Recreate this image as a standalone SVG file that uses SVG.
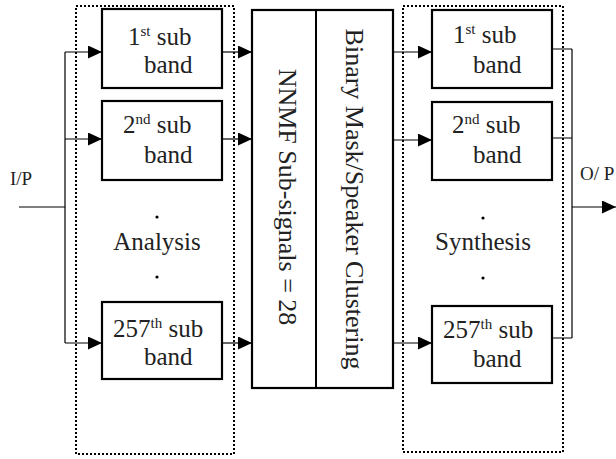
<svg xmlns="http://www.w3.org/2000/svg" width="616" height="459" viewBox="0 0 616 459">
<defs>
<marker id="ah" markerUnits="userSpaceOnUse" markerWidth="15" markerHeight="13" refX="14" refY="6.5" orient="auto">
<path d="M0,0 L14,6.5 L0,13 Z" fill="#000"/>
</marker>
<style>
.box{fill:#fff;stroke:#000;stroke-width:2.2}
.dot{fill:none;stroke:#000;stroke-width:2;stroke-dasharray:2 2}
.ln{fill:none;stroke:#000;stroke-width:1.2}
.t{font-family:"Liberation Serif","Times New Roman",serif;font-size:25px;fill:#222}
.sup{font-size:15px}
.v{font-size:26px}
.lab{font-size:19px}
</style>
</defs>
<rect width="616" height="459" fill="#fff"/>
<g id="analysis">
<rect class="dot" x="76" y="6" width="158" height="448"/>
<text class="t" x="157" y="250" text-anchor="middle">Analysis</text>
<circle cx="157" cy="217" r="1.6" fill="#000"/>
<circle cx="157" cy="277" r="1.6" fill="#000"/>
</g>
<g id="synthesis">
<rect class="dot" x="403" y="6" width="160" height="446"/>
<text class="t" x="483" y="250" text-anchor="middle">Synthesis</text>
<circle cx="483" cy="218" r="1.6" fill="#000"/>
<circle cx="483" cy="278" r="1.6" fill="#000"/>
</g>
<g id="connectors">
<path class="ln" d="M19,207 H65 M65,52 V343"/>
<path class="ln" d="M65,52 H102" marker-end="url(#ah)"/>
<path class="ln" d="M65,139 H102" marker-end="url(#ah)"/>
<path class="ln" d="M65,343 H102" marker-end="url(#ah)"/>
<path class="ln" d="M222,52 H252" marker-end="url(#ah)"/>
<path class="ln" d="M222,139 H252" marker-end="url(#ah)"/>
<path class="ln" d="M222,343 H252" marker-end="url(#ah)"/>
<path class="ln" d="M393,52 H432" marker-end="url(#ah)"/>
<path class="ln" d="M393,140 H432" marker-end="url(#ah)"/>
<path class="ln" d="M393,343 H432" marker-end="url(#ah)"/>
<path class="ln" d="M552,49 H572 M552,138 H572 M552,338 H572 M572,49 V338"/>
<path class="ln" d="M572,207 H616" marker-end="url(#ah)"/>
</g>
<g id="a1">
<rect class="box" x="102" y="9" width="120" height="79"/>
<text class="t" x="128" y="45">1<tspan class="sup" dy="-9">st</tspan><tspan dy="9"> sub</tspan></text>
<text class="t" x="144" y="73">band</text>
</g>
<g id="a2">
<rect class="box" x="102" y="101" width="120" height="79"/>
<text class="t" x="123" y="133">2<tspan class="sup" dy="-9">nd</tspan><tspan dy="9"> sub</tspan></text>
<text class="t" x="144" y="163">band</text>
</g>
<g id="a3">
<rect class="box" x="102" y="302" width="120" height="77"/>
<text class="t" x="113" y="337">257<tspan class="sup" dy="-9">th</tspan><tspan dy="9"> sub</tspan></text>
<text class="t" x="144" y="365">band</text>
</g>
<g id="middle">
<rect class="box" x="252" y="10" width="141" height="378"/>
<line x1="316" y1="10" x2="316" y2="388" stroke="#000" stroke-width="2"/>
<text class="t v" text-anchor="middle" transform="translate(279,197) rotate(90)">NNMF Sub-signals = 28</text>
<text class="t v" text-anchor="middle" transform="translate(346,199) rotate(90)">Binary Mask/Speaker Clustering</text>
</g>
<g id="s1">
<rect class="box" x="432" y="10" width="120" height="78"/>
<text class="t" x="453" y="43">1<tspan class="sup" dy="-9">st</tspan><tspan dy="9"> sub</tspan></text>
<text class="t" x="473" y="73">band</text>
</g>
<g id="s2">
<rect class="box" x="432" y="102" width="120" height="78"/>
<text class="t" x="452" y="133">2<tspan class="sup" dy="-9">nd</tspan><tspan dy="9"> sub</tspan></text>
<text class="t" x="473" y="163">band</text>
</g>
<g id="s3">
<rect class="box" x="432" y="306" width="120" height="77"/>
<text class="t" x="443" y="338">257<tspan class="sup" dy="-9">th</tspan><tspan dy="9"> sub</tspan></text>
<text class="t" x="473" y="367">band</text>
</g>
<g id="labels">
<text class="t lab" x="10" y="185">I/P</text>
<text class="t lab" x="580" y="180">O/ P</text>
</g>
</svg>
